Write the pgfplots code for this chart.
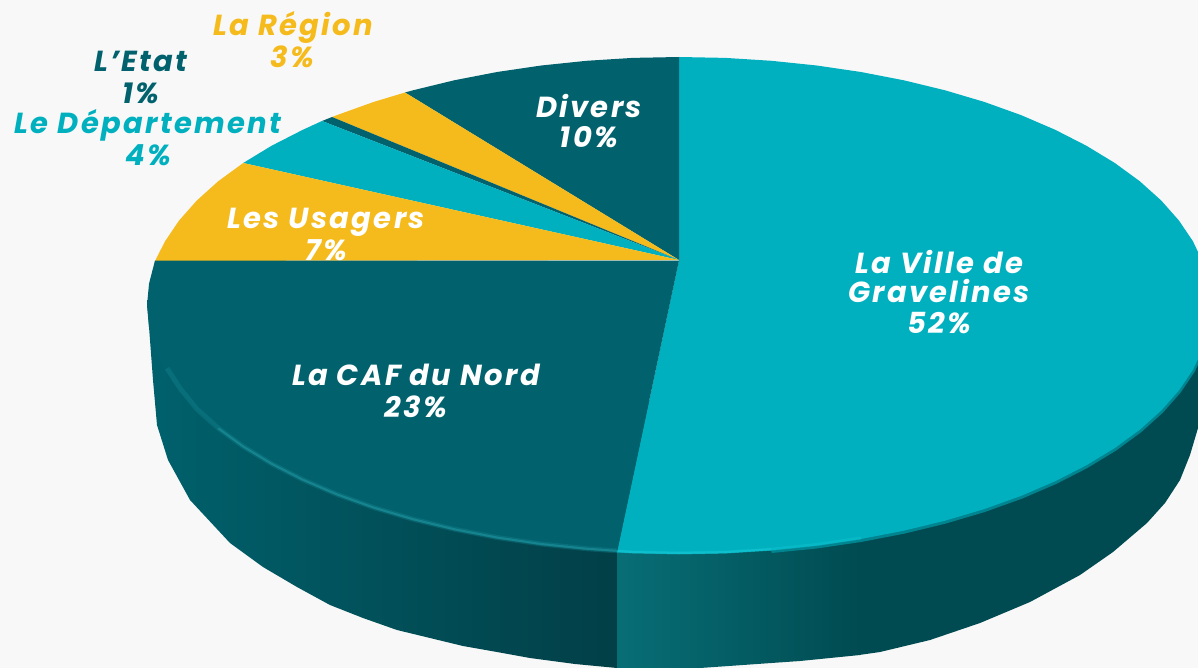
\documentclass[border=0pt]{standalone}
\usepackage{fontspec}
\setmainfont{Poppins}[LetterSpace=8]
\usepackage{pgfplots}
\pgfplotsset{compat=1.18}
\definecolor{paper}{HTML}{F8F8F8}
\definecolor{cteal}{HTML}{00B0BF}
\definecolor{cdark}{HTML}{01626E}
\definecolor{cyel}{HTML}{F5BA1C}
\definecolor{wallL}{HTML}{00616C}
\definecolor{wallD}{HTML}{023F47}
\definecolor{wallS}{HTML}{086E76}
\definecolor{wallR}{HTML}{004B51}
\definecolor{rimT}{HTML}{0EC0CD}
\definecolor{rimD}{HTML}{1A8A94}
\definecolor{rimB}{HTML}{008490}
\begin{document}
\begin{tikzpicture}
\begin{axis}[
  scale only axis, width=1198pt, height=668pt,
  xmin=0, xmax=1198, ymin=0, ymax=668, y dir=reverse,
  hide axis, clip=true,
  nodes={font=\bfseries\itshape\fontsize{29}{33}\selectfont, inner sep=0pt, align=center}
]
% paper
\addplot[draw=none, fill=paper] coordinates {(0,0)(1198,0)(1198,668)(0,668)} \closedcycle;
% wall, left of the joint
\addplot[draw=none, left color=wallL, right color=wallD] coordinates {
(147,300)(150,340)(153,380)(157,425)(168,460)(190,500)(230,543)(263,567)(297,587)(330,605)(363,618)(397,630)(430,638)(463,646)(497,652)(530,658)(575,664)(617,668)(617,400)} -- cycle;
% wall, right of the joint
\addplot[draw=none, left color=wallS, right color=wallR] coordinates {
(617,400)(617,668)(700,668)(800,661)(860,655)(860,400)} -- cycle;
\addplot[draw=none, fill=wallR] coordinates {
(859,400)(859,655)(880,652)(930,640)(980,623)(1030,602)(1080,575)(1113,552)(1147,523)(1165,503)(1180,480)(1190,455)(1198,428)(1198,300)} -- cycle;
% soft lower edge of the teal slice
\addplot[line width=4pt, color=rimB] coordinates {(771.4,551)(816.7,546.5)(860.9,540)(903.8,531.7)(945,521.7)(984.2,510.1)(1021,496.9)(1055.2,482.2)(1086.5,466.2)(1114.8,449)(1139.7,430.8)(1161.2,411.5)(1178.9,391.5)(1192.9,370.8)(1202.9,349.7)};
% whole top: La Ville de Gravelines 52
\addplot[draw=none, fill=cteal] coordinates {
(1211,305.5)(1209,327.2)(1202.9,348.7)(1192.9,369.8)(1178.9,390.5)(1161.2,410.5)(1139.7,429.8)(1114.8,448)(1086.5,465.2)(1055.2,481.2)(1021,495.9)(984.2,509.1)(945,520.7)(903.8,530.7)(860.9,539)(816.7,545.5)(771.4,550.2)(725.4,553.1)(679,554)(617,552.3)(679,260)(679,57)(725.4,57.9)(771.4,60.8)(816.7,65.5)(860.9,72)(903.8,80.3)(945,90.3)(984.2,101.9)(1021,115.1)(1055.2,129.8)(1086.5,145.8)(1114.8,163)(1139.7,181.2)(1161.2,200.5)(1178.9,220.5)(1192.9,241.2)(1202.9,262.3)(1209,283.8)} -- cycle;
% rim highlight on the teal slice
\addplot[line width=3pt, color=rimT, opacity=0.5] coordinates {(617,551)(632.6,552)(679,553)(725.4,552.1)(771.4,549.2)(816.7,544.5)(860.9,538)};
\addplot[line width=2pt, color=rimT] coordinates {(617,551)(632.6,552)(679,553)(725.4,552.1)(771.4,549.2)};
% Divers 10
\addplot[draw=none, fill=cdark] coordinates {(679,260)(679,57)(632.6,57.9)(586.6,60.8)(541.3,65.5)(497.1,72)(454.2,80.3)(413,90.3)(405,92.5)} -- cycle;
% La Region 3
\addplot[draw=none, fill=cyel] coordinates {(679,260)(405,92.5)(373.8,101.9)(337,115.1)(332,117)} -- cycle;
% L'Etat 1
\addplot[draw=none, fill=cdark] coordinates {(679,260)(332,117)(322,121)} -- cycle;
% Le Departement 4
\addplot[draw=none, fill=cteal] coordinates {(679,260)(322,121)(302.8,129.8)(271.5,145.8)(243.2,163)} -- cycle;
% Les Usagers 7
\addplot[draw=none, fill=cyel] coordinates {(679,260)(243.2,163)(218.3,181.2)(196.8,200.5)(179.1,220.5)(165.1,241.2)(155,261)} -- cycle;
\addplot[draw=none, text=white] coordinates {(326,250)} node {7\%};
% La CAF du Nord 23
\addplot[draw=none, fill=cdark] coordinates {(679,260.5)(155,260.5)(149,283.8)(147,305.5)(149,327.2)(155.1,348.7)(165.1,369.8)(179.1,390.5)(196.8,410.5)(218.3,429.8)(243.2,448)(271.5,465.2)(302.8,481.2)(337,495.9)(373.8,509.1)(413,520.7)(454.2,530.7)(497.1,539)(541.3,545.5)(586.6,550.2)(617,552.3)} -- cycle;
% rim highlight on the dark slice
\addplot[line width=5pt, color=rimD, opacity=0.3] coordinates {(167,368.3)(180.5,389)(196.8,409)(218.3,428.3)(243.2,446.5)(271.5,463.7)(302.8,479.7)(337,494.4)(373.8,507.6)(413,519.2)(454.2,529.2)(497.1,537.5)(541.3,544)(586.6,548.7)(617,550.8)};
\addplot[line width=2pt, color=rimD, opacity=0.8] coordinates {(218.3,428.3)(243.2,446.5)(271.5,463.7)(302.8,479.7)(337,494.4)(373.8,507.6)(413,519.2)(454.2,529.2)(497.1,537.5)(541.3,544)(586.6,548.7)(617,550.8)};
% labels
\node[text=cyel] at (axis cs:293,27) {La Région};
\node[text=cyel] at (axis cs:292,57) {3\%};
\node[text=cdark] at (axis cs:141,61) {L'Etat};
\node[text=cdark] at (axis cs:141,93) {1\%};
\node[text=cteal] at (axis cs:148,125) {Le Département};
\node[text=cteal] at (axis cs:148,155) {4\%};
\node[text=white] at (axis cs:326,222) {Les Usagers};
\node[text=white] at (axis cs:589,106) {Divers};
\node[text=white] at (axis cs:589,137) {10\%};
\node[text=white] at (axis cs:939,262) {La Ville de};
\node[text=white] at (axis cs:939,291) {Gravelines};
\node[text=white] at (axis cs:939,323) {52\%};
\node[text=white] at (axis cs:416,375) {La CAF du Nord};
\node[text=white] at (axis cs:416,407) {23\%};
\end{axis}
\end{tikzpicture}
\end{document}
